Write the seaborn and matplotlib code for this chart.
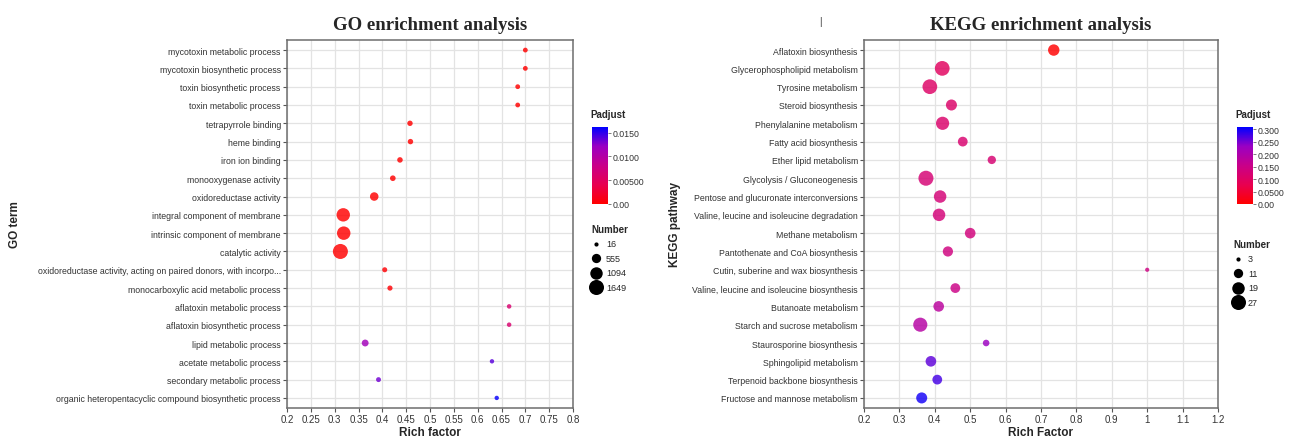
import matplotlib
matplotlib.use('Agg')
import numpy as np
import pandas as pd
import seaborn as sns
import matplotlib.pyplot as plt
from matplotlib.colors import LinearSegmentedColormap, Normalize
from matplotlib.cm import ScalarMappable

# GO enrichment data (top to bottom)
go_terms = ['mycotoxin metabolic process', 'mycotoxin biosynthetic process',
            'toxin biosynthetic process', 'toxin metabolic process',
            'tetrapyrrole binding', 'heme binding', 'iron ion binding',
            'monooxygenase activity', 'oxidoreductase activity',
            'integral component of membrane', 'intrinsic component of membrane',
            'catalytic activity',
            'oxidoreductase activity, acting on paired donors, with incorpo...',
            'monocarboxylic acid metabolic process', 'aflatoxin metabolic process',
            'aflatoxin biosynthetic process', 'lipid metabolic process',
            'acetate metabolic process', 'secondary metabolic process',
            'organic heteropentacyclic compound biosynthetic process']
go_rich = [0.70, 0.70, 0.684, 0.684, 0.458, 0.459, 0.437, 0.422, 0.383, 0.318,
           0.319, 0.312, 0.405, 0.416, 0.666, 0.666, 0.364, 0.630, 0.392, 0.640]
go_number = [60, 60, 60, 60, 110, 110, 120, 130, 450, 1290,
             1300, 1649, 80, 90, 40, 40, 250, 30, 70, 30]
go_padj = [0.0, 0.0, 0.0, 0.0, 0.0, 0.0, 0.0, 0.0, 0.0, 0.0,
           0.0, 0.0, 0.0002, 0.0002, 0.0062, 0.0062, 0.0115, 0.0138, 0.0132, 0.0160]

# KEGG enrichment data (top to bottom)
kegg_terms = ['Aflatoxin biosynthesis', 'Glycerophospholipid metabolism',
              'Tyrosine metabolism', 'Steroid biosynthesis',
              'Phenylalanine metabolism', 'Fatty acid biosynthesis',
              'Ether lipid metabolism', 'Glycolysis / Gluconeogenesis',
              'Pentose and glucuronate interconversions',
              'Valine, leucine and isoleucine degradation', 'Methane metabolism',
              'Pantothenate and CoA biosynthesis',
              'Cutin, suberine and wax biosynthesis',
              'Valine, leucine and isoleucine biosynthesis', 'Butanoate metabolism',
              'Starch and sucrose metabolism', 'Staurosporine biosynthesis',
              'Sphingolipid metabolism', 'Terpenoid backbone biosynthesis',
              'Fructose and mannose metabolism']
kegg_rich = [0.736, 0.421, 0.386, 0.447, 0.422, 0.479, 0.561, 0.375, 0.415, 0.412,
             0.500, 0.437, 1.0, 0.458, 0.411, 0.359, 0.545, 0.389, 0.407, 0.363]
kegg_number = [16, 26, 26, 15, 21, 12, 9, 27, 19, 19,
               14, 13, 3, 12, 14, 24, 6, 14, 12, 15]
kegg_padj = [0.0, 0.095, 0.105, 0.110, 0.112, 0.118, 0.122, 0.125, 0.128, 0.130,
             0.135, 0.140, 0.143, 0.150, 0.180, 0.188, 0.229, 0.262, 0.275, 0.300]

go_ticks = np.round(np.arange(0.2, 0.8001, 0.05), 2)
kegg_ticks = np.round(np.arange(0.2, 1.2001, 0.1), 1)

sns.set_style('white')
plt.rcParams['font.family'] = ['Liberation Sans', 'DejaVu Sans']

cmap = LinearSegmentedColormap.from_list(
    'redblue', ['#FF0000', '#E80050', '#C90089', '#9A00C3', '#0000FF'])

fig = plt.figure(figsize=(12.91, 4.39), dpi=100)
W, H = 1291, 439
SMIN, SMAX = 9, 117


def fmt(v):
    return ('%g' % v)


def panel(rect, terms, rich, number, padj, ticks, vmax, size_norm,
          title, xlabel, ylabel, ylab_x):
    ax = fig.add_axes(rect)
    df = pd.DataFrame({'term': terms, 'rich': rich, 'number': number, 'padj': padj})
    sns.scatterplot(data=df, x='rich', y='term', hue='padj', size='number',
                    palette=cmap, hue_norm=(0, vmax), sizes=(SMIN, SMAX),
                    size_norm=size_norm, linewidth=0, alpha=0.82,
                    legend=False, ax=ax, zorder=3)
    ax.set_xlim(ticks[0], ticks[-1])
    ax.set_ylim(len(terms) - 0.45, -0.55)
    ax.set_xticks(ticks)
    ax.set_xticklabels([fmt(t) for t in ticks])
    ax.grid(True, color='#E3E3E3', linewidth=0.9, zorder=0)
    ax.set_axisbelow(True)
    for s in ax.spines.values():
        s.set_color('#6E6E6E')
        s.set_linewidth(1.1)
    ax.tick_params(axis='both', which='major', length=3, width=0.8,
                   color='#555555', labelsize=6.3, labelcolor='#333333', pad=1.5,
                   bottom=True, left=True)
    ax.tick_params(axis='x', labelsize=7)
    ax.set_xlabel(xlabel, fontsize=8.5, fontweight='bold', labelpad=1)
    ax.set_ylabel('')
    fig.text(ylab_x, rect[1] + rect[3] / 2, ylabel, rotation=90, fontsize=8.5,
             fontweight='bold', ha='center', va='center')
    ax.set_title(title, fontsize=13.5, fontweight='bold', pad=8,
                 family=['Liberation Serif', 'DejaVu Serif'])
    return ax


panel([287 / W, 1 - 409 / H, 286 / W, 368 / H], go_terms, go_rich, go_number,
      go_padj, go_ticks, 0.0162, (16, 1649), 'GO enrichment analysis',
      'Rich factor', 'GO term', 15 / W)
panel([864 / W, 1 - 409 / H, 354 / W, 368 / H], kegg_terms, kegg_rich, kegg_number,
      kegg_padj, kegg_ticks, 0.31, (3, 27), 'KEGG enrichment analysis',
      'Rich Factor', 'KEGG pathway', 675 / W)

fig.text(820 / W, 1 - 22 / H, '|', fontsize=7, ha='center', va='center', color='#333333')


def colorbar(x, vmax, ticks, labels):
    cax = fig.add_axes([x / W, 1 - 205 / H, 16 / W, 77 / H])
    sm = ScalarMappable(norm=Normalize(0, vmax), cmap=cmap)
    cb = fig.colorbar(sm, cax=cax, ticks=ticks)
    cb.ax.set_yticklabels(labels)
    cb.outline.set_visible(False)
    cb.ax.tick_params(length=2, width=0.6, color='#666666', labelsize=6.3,
                      labelcolor='#333333', pad=1)
    fig.text((x - 2) / W, 1 - 115 / H, 'Padjust', fontsize=7, fontweight='bold',
             ha='left', va='center')


colorbar(592, 0.0162, [0, 0.005, 0.01, 0.015], ['0.00', '0.00500', '0.0100', '0.0150'])
colorbar(1237, 0.31, [0, 0.05, 0.1, 0.15, 0.2, 0.25, 0.3],
         ['0.00', '0.0500', '0.100', '0.150', '0.200', '0.250', '0.300'])


def size_legend(x, ytop, values, size_norm):
    lo, hi = size_norm
    handles = []
    for v in values:
        s = SMIN + (v - lo) / (hi - lo) * (SMAX - SMIN)
        handles.append(plt.scatter([], [], s=s, color='black', linewidth=0))
    leg = fig.legend(handles, [str(v) for v in values], title='Number',
                     loc='upper left', bbox_to_anchor=(x / W, 1 - ytop / H),
                     frameon=False, fontsize=6.5, title_fontsize=7,
                     borderpad=0, borderaxespad=0, handletextpad=0.45,
                     labelspacing=0.6, alignment='left', handlelength=1.2)
    leg.get_title().set_fontweight('bold')


size_legend(591, 225, [16, 555, 1094, 1649], (16, 1649))
size_legend(1233, 240, [3, 11, 19, 27], (3, 27))

fig.savefig('out.png', dpi=100)
